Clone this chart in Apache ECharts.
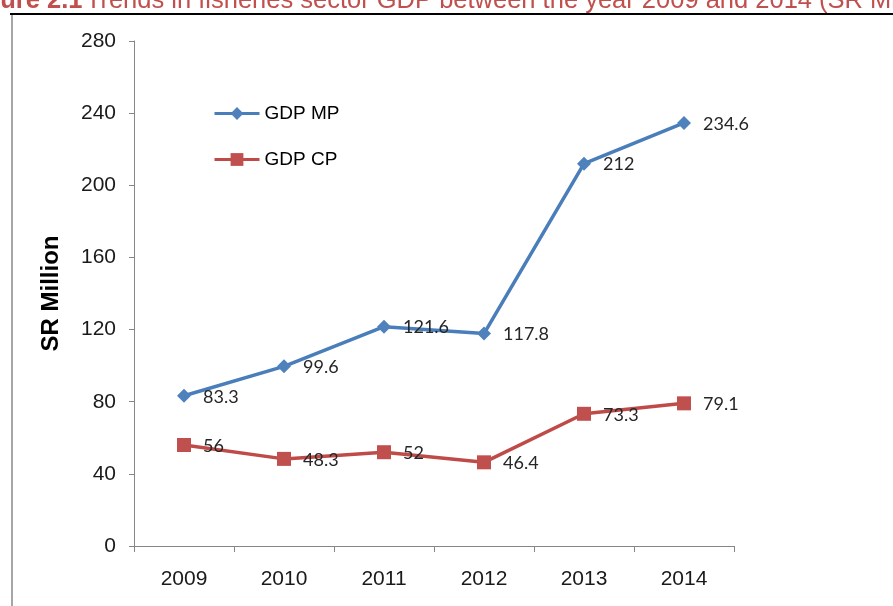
<!DOCTYPE html>
<html>
<head>
<meta charset="utf-8">
<title>Trends in fisheries sector GDP 2009-2014</title>
<script src="https://cdn.jsdelivr.net/npm/echarts@6/dist/echarts.min.js"></script>
<style>
  html, body { margin: 0; padding: 0; background: #ffffff; overflow: hidden; }
  #chart { width: 893px; height: 606px; }
</style>
</head>
<body>
<div id="chart"></div>
<script>
// Fisheries sector GDP (SR Million), 2009-2014
const years = ['2009', '2010', '2011', '2012', '2013', '2014'];
const gdpMP = [83.3, 99.6, 121.6, 117.8, 212, 234.6];
const gdpCP = [56, 48.3, 52, 46.4, 73.3, 79.1];
const seriesNames = ['GDP MP', 'GDP CP'];
const yTicks = { min: 0, max: 280, interval: 40 };
const axisTitle = 'SR Million';
const figureLabel = 'Figure 2.1';
const figureCaption = 'Trends in fisheries sector GDP between the year 2009 and 2014 (SR Million)';

const blueLine = '#4a7ebb', blueMark = '#4f81bd';
const redLine = '#be4b48', redMark = '#c0504d';
const sansFont = '"Liberation Sans", Arial, sans-serif';
const labelFont = 'Lato, "Open Sans", sans-serif';

const chart = echarts.init(document.getElementById('chart'), null, { renderer: 'canvas' });

const dataLabel = {
  show: true,
  position: 'right',
  distance: 12,
  offset: [0, 1],
  color: '#262626',
  fontFamily: labelFont,
  fontSize: 18
};

chart.setOption({
  backgroundColor: '#ffffff',
  animation: false,
  graphic: [
    {
      type: 'text',
      left: -38,
      top: -12,
      style: {
        rich: {
          b: { fontWeight: 'bold', fontSize: 25.5, fontFamily: sansFont, fill: '#c0504d' },
          n: { fontSize: 25.5, fontFamily: sansFont, fill: '#c0504d' }
        },
        text: '{b|' + figureLabel + '} {n|' + figureCaption + '}'
      },
      z: 10
    },
    {
      type: 'line',
      shape: { x1: 10, y1: 14, x2: 893, y2: 14 },
      style: { stroke: '#000000', lineWidth: 2 },
      z: 10
    },
    {
      type: 'line',
      shape: { x1: 12, y1: 15, x2: 12, y2: 606 },
      style: { stroke: '#a6a6a6', lineWidth: 2 },
      z: 10
    }
  ],
  legend: {
    orient: 'vertical',
    left: 213,
    top: 104,
    padding: 0,
    itemWidth: 45,
    itemHeight: 16,
    itemGap: 27,
    data: seriesNames,
    lineStyle: { width: 3 },
    textStyle: { fontFamily: sansFont, fontSize: 19, color: '#000000' }
  },
  grid: { left: 134, right: 159, top: 41, bottom: 60, containLabel: false },
  xAxis: {
    type: 'category',
    data: years,
    boundaryGap: true,
    axisLine: { lineStyle: { color: '#868686', width: 1 } },
    axisTick: { show: true, length: 6, lineStyle: { color: '#868686' } },
    axisLabel: { fontFamily: sansFont, fontSize: 21, color: '#1a1a1a', margin: 23 },
    splitLine: { show: false }
  },
  yAxis: {
    type: 'value',
    min: yTicks.min,
    max: yTicks.max,
    interval: yTicks.interval,
    name: axisTitle,
    nameLocation: 'middle',
    nameGap: 71,
    nameTextStyle: { fontFamily: sansFont, fontSize: 24, fontWeight: 'bold', color: '#000000' },
    axisLine: { show: true, lineStyle: { color: '#868686', width: 1 } },
    axisTick: { show: true, length: 5, lineStyle: { color: '#868686' } },
    axisLabel: { fontFamily: sansFont, fontSize: 21, color: '#1a1a1a', margin: 18 },
    splitLine: { show: false }
  },
  series: [
    {
      name: seriesNames[0],
      type: 'line',
      data: gdpMP,
      symbol: 'diamond',
      symbolSize: 14,
      lineStyle: { color: blueLine, width: 3.5 },
      itemStyle: { color: blueMark },
      label: dataLabel
    },
    {
      name: seriesNames[1],
      type: 'line',
      data: gdpCP,
      symbol: 'rect',
      symbolSize: 14,
      lineStyle: { color: redLine, width: 3.5 },
      itemStyle: { color: redMark },
      label: dataLabel
    }
  ]
});
</script>
</body>
</html>
